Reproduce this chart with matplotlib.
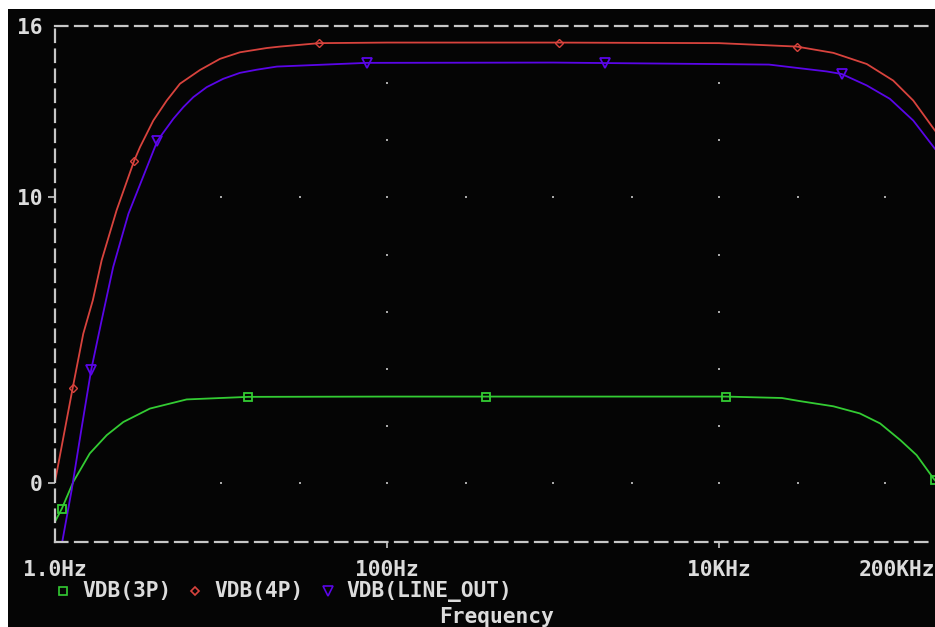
import numpy as np
import matplotlib
matplotlib.use('Agg')
import matplotlib.pyplot as plt
from matplotlib.patches import Rectangle
from matplotlib.lines import Line2D

# PSpice AC sweep, values
f_3p = [1.0, 1.10, 1.29, 1.62, 2.05, 2.58, 3.73, 6.21, 14.6, 100, 1000, 11e3,
        23.9e3, 30.8e3, 48.8e3, 70.5e3, 93.4e3, 124e3, 155e3, 196e3, 200e3]
db_3p = [-1.35, -0.89, 0.05, 1.04, 1.68, 2.14, 2.61, 2.93, 3.02, 3.03, 3.03, 3.03,
         2.98, 2.87, 2.69, 2.44, 2.09, 1.50, 0.98, 0.16, 0.10]

f_4p = [1.0, 1.278, 1.48, 1.69, 1.91, 2.35, 3.0, 3.25, 3.91, 4.71, 5.66, 7.47, 9.86, 13.0,
        18.9, 22.7, 39.1, 100, 1000, 10e3, 29.4e3, 48.8e3, 77.6e3, 112e3, 148e3, 200e3]
db_4p = [0.05, 3.33, 5.23, 6.40, 7.80, 9.55, 11.29, 11.76, 12.69, 13.39, 13.98, 14.46, 14.85, 15.08,
         15.23, 15.28, 15.40, 15.42, 15.42, 15.40, 15.28, 15.06, 14.67, 14.09, 13.39, 12.34]

f_line = [1.0, 1.11, 1.26, 1.45, 1.65, 1.91, 2.24, 2.77, 4.13, 4.29, 5.16, 5.93, 6.81, 8.2,
          10.3, 13.0, 16.4, 21.7, 75.7, 1000, 20e3, 30.8e3, 44.5e3, 54.8e3, 77.6e3, 107e3,
          148e3, 200e3]
db_line = [-3.6, -2.0, -0.24, 1.97, 3.95, 5.70, 7.56, 9.43, 11.97, 12.11, 12.75, 13.16, 13.51, 13.86,
           14.15, 14.36, 14.47, 14.58, 14.71, 14.72, 14.65, 14.52, 14.41, 14.32, 13.92, 13.45,
           12.69, 11.70]

# symbol positions on each trace
mk_f_3p = [1.10, 14.6, 395, 11e3, 200e3]
mk_db_3p = [-0.89, 3.03, 3.03, 3.03, 0.10]
mk_f_4p = [1.278, 3.0, 39.1, 1087, 29.4e3]
mk_db_4p = [3.33, 11.29, 15.40, 15.42, 15.28]
mk_f_line = [1.65, 4.13, 75.7, 2050, 54.8e3]
mk_db_line = [3.95, 11.97, 14.71, 14.72, 14.32]

xticks = [1, 100, 10e3, 200e3]
xticklabels = ['1.0Hz', '100Hz', '10KHz', '200KHz']
yticks = [0, 10, 16]
yticklabels = ['0', '10', '16']
labels = ['VDB(3P)', 'VDB(4P)', 'VDB(LINE_OUT)']

green = '#33cc33'
red = '#d8433d'
blue = '#5a05e8'
grey = '#c8c8c8'
txt = '#dcdcdc'
font = dict(family='DejaVu Sans Mono', weight='bold', size=15.3, color=txt)

W, H = 935, 627
fig = plt.figure(figsize=(W / 100, H / 100), dpi=100)
fig.patch.set_facecolor('white')
fig.add_artist(Rectangle((8 / W, 0), 1, (H - 9) / H, transform=fig.transFigure,
                         facecolor='#050505', edgecolor='none', zorder=0))

ax = fig.add_axes([55 / W, (H - 542) / H, (W - 55) / W, (542 - 26) / H])
ax.set_facecolor('#050505')
ax.set_xscale('log')
ax.set_xlim(1, 200e3)
ax.set_ylim(-2.06, 16)

# grid dots like the probe window
dot_x = [10, 30, 100, 300, 1e3, 3e3, 10e3, 30e3, 100e3]
for y in [0, 10]:
    ax.plot(dot_x, [y] * len(dot_x), ls='none', marker='s', ms=1.5, color='#a8a8a8', mew=0)
for x in [100, 10e3]:
    ys = [2, 4, 6, 8, 12, 14]
    ax.plot([x] * len(ys), ys, ls='none', marker='s', ms=1.5, color='#a8a8a8', mew=0)

ax.plot(f_3p, db_3p, color=green, lw=1.3)
ax.plot(f_4p, db_4p, color=red, lw=1.3)
ax.plot(f_line, db_line, color=blue, lw=1.3)
ax.plot(mk_f_3p, mk_db_3p, ls='none', marker='s', ms=5.5, mfc='none', mec=green, mew=1.3)
ax.plot(mk_f_4p, mk_db_4p, ls='none', marker='D', ms=4.5, mfc='none', mec=red, mew=1.0)
ax.plot(mk_f_line, mk_db_line, ls='none', marker='v', ms=7.5, mfc='none', mec=blue, mew=1.3)

# dashed frame
for side in ['left', 'top', 'bottom']:
    ax.spines[side].set_color(grey)
    ax.spines[side].set_linewidth(1.6)
    ax.spines[side].set_linestyle((0, (5.6, 3.4)))
ax.spines['right'].set_visible(False)

ax.xaxis.set_minor_locator(matplotlib.ticker.NullLocator())
ax.set_xticks(xticks)
ax.set_xticklabels(xticklabels, fontdict=font)
ax.set_yticks(yticks)
ax.set_yticklabels(yticklabels, fontdict=font)
ax.tick_params(axis='x', length=4, width=1.2, color=grey, pad=9)
ax.tick_params(axis='y', length=5, width=1.2, color=grey, pad=4)
ax.get_xticklabels()[-1].set_ha('right')
ax.xaxis.get_major_ticks()[0].tick1line.set_visible(False)
ax.xaxis.get_major_ticks()[-1].tick1line.set_visible(False)
ax.yaxis.get_major_ticks()[2].tick1line.set_visible(False)

# legend row under the axis
leg_y = (H - 591) / H
legend_items = [(63, 82, 's', green, 5.5), (195, 214, 'D', red, 4.5), (328, 346, 'v', blue, 7.0)]
for (mx, tx, m, c, ms), lab in zip(legend_items, labels):
    fig.add_artist(Line2D([mx / W], [leg_y], marker=m, ms=ms, mfc='none', mec=c, mew=1.2,
                          ls='none', transform=fig.transFigure))
    fig.text(tx / W, leg_y, lab, va='center', ha='left', **font)

fig.text(496 / W, (H - 617) / H, 'Frequency', va='center', ha='center', **font)

fig.savefig('out.png', dpi=100, facecolor=fig.get_facecolor())
